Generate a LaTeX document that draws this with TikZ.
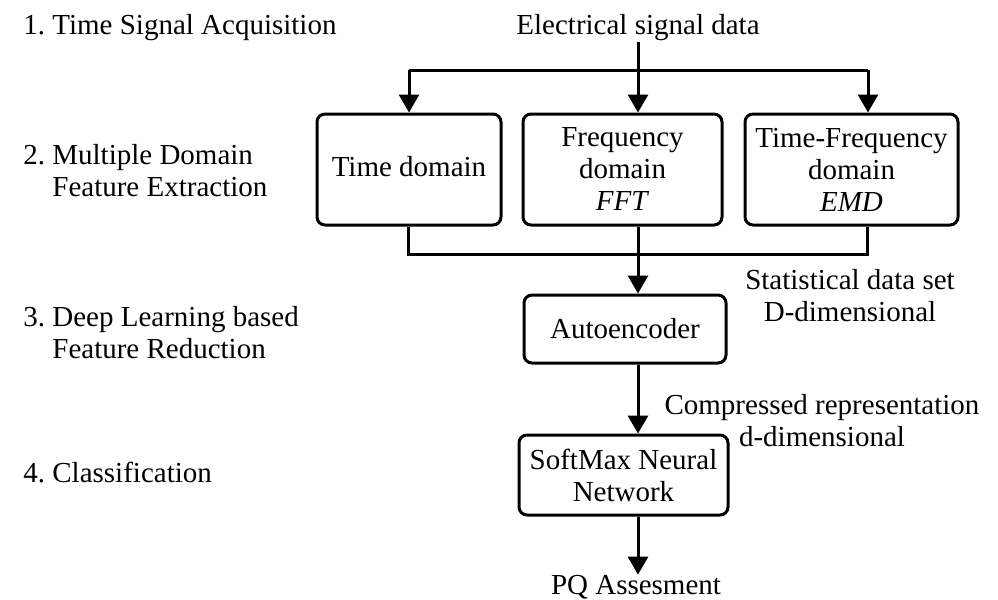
\documentclass[tikz,border=0pt]{standalone}
\usepackage{fontspec}
\setmainfont{Liberation Serif}
\usetikzlibrary{arrows.meta}
\begin{document}
\begin{tikzpicture}[x=0.5pt,y=-0.5pt,
  every node/.style={font=\fontsize{14.5}{16}\selectfont, inner sep=0pt},
  box/.style={draw, line width=1.5pt, rounded corners=4pt, align=center},
  conn/.style={line width=1.5pt},
  arr/.style={conn, -{Triangle[width=10pt,length=9pt]}},
  lbl/.style={align=center},
  stage/.style={align=left, anchor=west}
]
\useasboundingbox (0,0) rectangle (998,600);

% stage labels
\node[stage] (s1) at (23,28) {1.\ Time Signal Acquisition};
\node[stage] (s2) at (23,171) {2.\ Multiple Domain\\\phantom{2.\ }Feature Extraction};
\node[stage] (s3) at (23,333) {3.\ Deep Learning based\\\phantom{3.\ }Feature Reduction};
\node[stage] (s4) at (23,472) {4.\ Classification};

% nodes
\node (sig) at (638,28) {Electrical signal data};
\node[box, minimum width=92pt, minimum height=55.5pt] (B1) at (409,169.5) {\raisebox{3pt}{Time domain}};
\node[box, minimum width=99.5pt, minimum height=55.5pt] (B2) at (622.5,169.5) {Frequency\\domain\\\textit{FFT}};
\node[box, minimum width=106.5pt, minimum height=55.5pt] (B3) at (851.5,169.5) {Time-Frequency\\domain\\\textit{EMD}};
\node[box, minimum width=101pt, minimum height=34pt] (AE) at (625,329) {Autoencoder};
\node[box, minimum width=104.5pt, minimum height=40pt] (SM) at (623.5,475) {SoftMax Neural\\Network};
\node (pq) at (636,587) {PQ Assesment};

\node[lbl] (l1) at (850,296) {Statistical data set\\D-dimensional};
\node[lbl] (l2) at (822,421) {Compressed representation\\d-dimensional};

% top distribution
\coordinate (ja) at (409,70);
\coordinate (jb) at (638,70);
\coordinate (jc) at (868,70);
\draw[conn] (sig.south -| jb) -- (jb);
\draw[conn] (ja) -- (jc);
\draw[arr] (ja) -- (ja |- B1.north);
\draw[arr] (jb) -- (jb |- B2.north);
\draw[arr] (jc) -- (jc |- B3.north);

% bottom collection
\coordinate (ka) at (408,254);
\coordinate (kb) at (638,254);
\coordinate (kc) at (867,254);
\draw[conn] (ka |- B1.south) -- (ka) -- (kc) -- (kc |- B3.south);
\draw[conn] (kb |- B2.south) -- (kb);
\draw[arr] (kb) -- (kb |- AE.north);
\draw[arr] (AE.south -| kb) -- (kb |- SM.north);
\draw[arr] (SM.south -| kb) -- (kb |- pq.north);
\end{tikzpicture}
\end{document}
